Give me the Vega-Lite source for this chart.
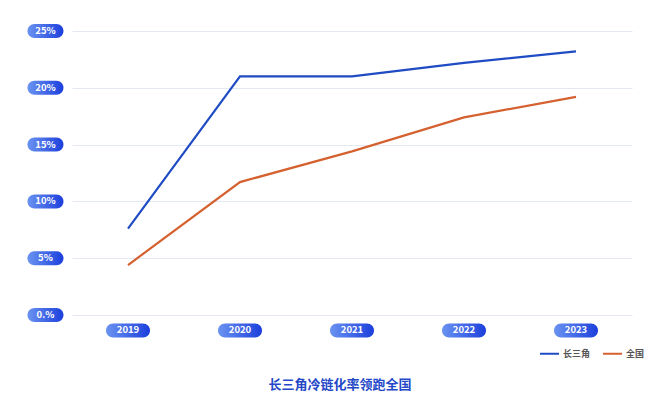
{
  "$schema": "https://vega.github.io/schema/vega-lite/v6.json",
  "width": 560,
  "height": 284,
  "autosize": {"type": "none"},
  "padding": {"left": 72, "top": 31, "right": 28, "bottom": 89},
  "background": "white",
  "title": {
    "text": "长三角冷链化率领跑全国",
    "orient": "bottom",
    "anchor": "middle",
    "frame": "group",
    "dx": -12,
    "offset": 20,
    "font": "Noto Sans CJK SC",
    "fontSize": 13,
    "fontWeight": "bold",
    "color": "#2448c8"
  },
  "datasets": {
    "lines": [
      {"year": 2019, "series": "长三角", "value": 0.076},
      {"year": 2020, "series": "长三角", "value": 0.21},
      {"year": 2021, "series": "长三角", "value": 0.21},
      {"year": 2022, "series": "长三角", "value": 0.222},
      {"year": 2023, "series": "长三角", "value": 0.232},
      {"year": 2019, "series": "全国", "value": 0.044},
      {"year": 2020, "series": "全国", "value": 0.117},
      {"year": 2021, "series": "全国", "value": 0.144},
      {"year": 2022, "series": "全国", "value": 0.174},
      {"year": 2023, "series": "全国", "value": 0.192}
    ],
    "xticks": [
      {"year": 2019, "label": "2019"},
      {"year": 2020, "label": "2020"},
      {"year": 2021, "label": "2021"},
      {"year": 2022, "label": "2022"},
      {"year": 2023, "label": "2023"}
    ],
    "yticks": [
      {"v": 0, "label": "0.%"},
      {"v": 0.05, "label": "5%"},
      {"v": 0.1, "label": "10%"},
      {"v": 0.15, "label": "15%"},
      {"v": 0.2, "label": "20%"},
      {"v": 0.25, "label": "25%"}
    ]
  },
  "layer": [
    {
      "data": {"name": "lines"},
      "mark": {"type": "line", "strokeWidth": 2.2},
      "encoding": {
        "x": {
          "field": "year",
          "type": "quantitative",
          "scale": {"domain": [2018.5, 2023.5], "nice": false, "zero": false},
          "axis": null
        },
        "y": {
          "field": "value",
          "type": "quantitative",
          "scale": {"domain": [0, 0.25], "nice": false},
          "axis": {
            "values": [0, 0.05, 0.1, 0.15, 0.2, 0.25],
            "grid": true,
            "gridColor": "#e4e8f3",
            "gridWidth": 1,
            "labels": false,
            "ticks": false,
            "domain": false,
            "title": null
          }
        },
        "color": {
          "field": "series",
          "type": "nominal",
          "scale": {"domain": ["长三角", "全国"], "range": ["#1f4cc4", "#d4612f"]},
          "legend": {
            "title": null,
            "orient": "none",
            "direction": "horizontal",
            "legendX": 467,
            "legendY": 312,
            "symbolType": "stroke",
            "symbolSize": 361,
            "symbolStrokeWidth": 2,
            "labelFont": "Noto Sans CJK SC",
            "labelFontSize": 9,
            "labelFontWeight": "bold",
            "labelColor": "#555555",
            "labelOffset": 3,
            "columnPadding": 8
          }
        }
      }
    },
    {
      "data": {"name": "xticks"},
      "mark": {
        "type": "point",
        "filled": true,
        "opacity": 1,
        "size": 1936,
        "shape": "M-0.682,-0.318L0.682,-0.318A0.318,0.318,0,0,1,0.682,0.318L-0.682,0.318A0.318,0.318,0,0,1,-0.682,-0.318Z",
        "fill": {
          "gradient": "linear",
          "x1": 0, "y1": 0, "x2": 1, "y2": 0,
          "stops": [
            {"offset": 0, "color": "#6a93f1"},
            {"offset": 1, "color": "#1c3fdc"}
          ]
        },
        "strokeWidth": 0
      },
      "encoding": {
        "x": {"field": "year", "type": "quantitative", "scale": {"domain": [2018.5, 2023.5], "nice": false, "zero": false}},
        "y": {"datum": -0.0136, "type": "quantitative", "scale": {"domain": [0, 0.25], "nice": false}}
      }
    },
    {
      "data": {"name": "xticks"},
      "mark": {
        "type": "text",
        "font": "Noto Sans CJK SC",
        "fontSize": 9.5,
        "fontWeight": "bold",
        "color": "white",
        "baseline": "middle",
        "align": "center"
      },
      "encoding": {
        "x": {"field": "year", "type": "quantitative", "scale": {"domain": [2018.5, 2023.5], "nice": false, "zero": false}},
        "y": {"datum": -0.0136, "type": "quantitative", "scale": {"domain": [0, 0.25], "nice": false}},
        "text": {"field": "label"}
      }
    },
    {
      "data": {"name": "yticks"},
      "mark": {
        "type": "point",
        "filled": true,
        "opacity": 1,
        "size": 1296,
        "shape": "M-0.611,-0.389L0.611,-0.389A0.389,0.389,0,0,1,0.611,0.389L-0.611,0.389A0.389,0.389,0,0,1,-0.611,-0.389Z",
        "fill": {
          "gradient": "linear",
          "x1": 0, "y1": 0, "x2": 1, "y2": 0,
          "stops": [
            {"offset": 0, "color": "#6a93f1"},
            {"offset": 1, "color": "#1c3fdc"}
          ]
        },
        "strokeWidth": 0
      },
      "encoding": {
        "x": {"datum": 2018.263, "type": "quantitative", "scale": {"domain": [2018.5, 2023.5], "nice": false, "zero": false}},
        "y": {"field": "v", "type": "quantitative", "scale": {"domain": [0, 0.25], "nice": false}}
      }
    },
    {
      "data": {"name": "yticks"},
      "mark": {
        "type": "text",
        "font": "Noto Sans CJK SC",
        "fontSize": 9.5,
        "fontWeight": "bold",
        "color": "white",
        "baseline": "middle",
        "align": "center"
      },
      "encoding": {
        "x": {"datum": 2018.263, "type": "quantitative", "scale": {"domain": [2018.5, 2023.5], "nice": false, "zero": false}},
        "y": {"field": "v", "type": "quantitative", "scale": {"domain": [0, 0.25], "nice": false}},
        "text": {"field": "label"}
      }
    }
  ],
  "config": {
    "view": {"stroke": null}
  }
}
